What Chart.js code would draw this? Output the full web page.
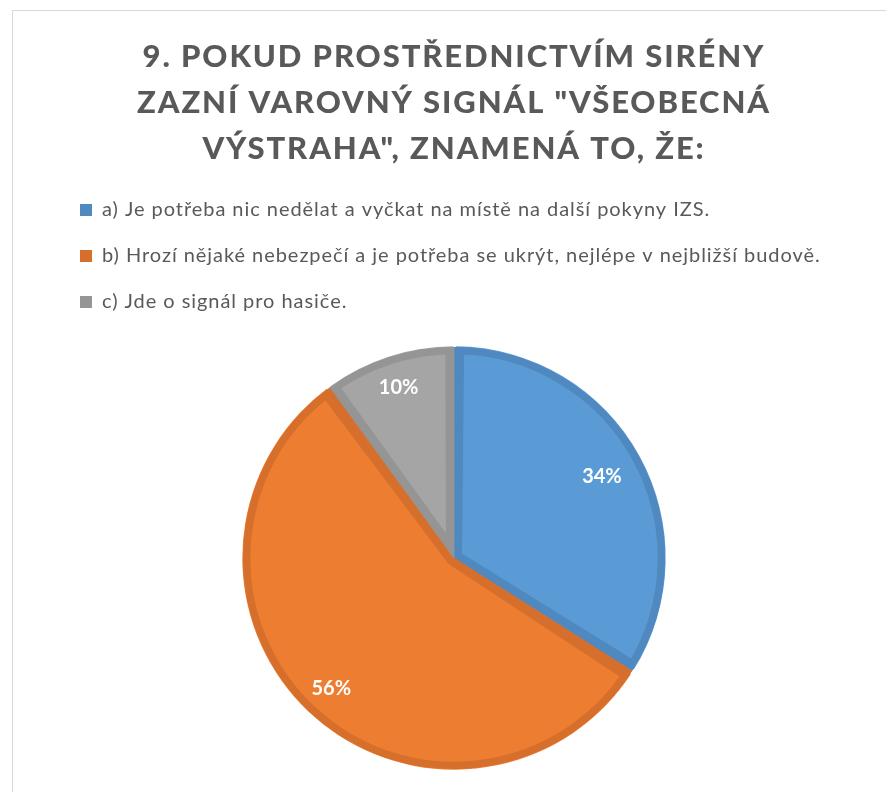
<!DOCTYPE html>
<html>
<head>
<meta charset="utf-8">
<script src="https://cdn.jsdelivr.net/npm/chart.js@4.4.1/dist/chart.umd.min.js"></script>
<style>
  html, body { margin: 0; padding: 0; background: #fff; }
  #frame { position: absolute; left: 12px; top: 10px; width: 900px; height: 800px;
           border-left: 1px solid #d9d9d9; border-top: 1px solid #d9d9d9; }
  #wrap { position: absolute; left: 0; top: 0; width: 886px; height: 792px; }
</style>
</head>
<body>
<div id="frame"></div>
<div id="wrap"><canvas id="myChart" width="886" height="792"></canvas></div>
<script>
const titleLines = ['9. POKUD PROSTŘEDNICTVÍM SIRÉNY', 'ZAZNÍ VAROVNÝ SIGNÁL "VŠEOBECNÁ', 'VÝSTRAHA", ZNAMENÁ TO, ŽE:'];
const categories = [
  'a) Je potřeba nic nedělat a vyčkat na místě na další pokyny IZS.',
  'b) Hrozí nějaké nebezpečí a je potřeba se ukrýt, nejlépe v nejbližší budově.',
  'c) Jde o signál pro hasiče.'
];
const shares = [34, 56, 10];
const fillColors = ['#5b9bd5', '#ed7d31', '#a5a5a5'];
const edgeColors = ['#4f89c0', '#d66f2b', '#959595'];
const labelDist = [0.8, 0.85, 0.85];

// letter spacing for one box method (title / legend)
function spaced(box, name, ls) {
  const orig = box[name];
  box[name] = function (...args) {
    const c = this.ctx;
    const prev = c.letterSpacing;
    c.letterSpacing = ls;
    const r = orig.apply(this, args);
    c.letterSpacing = prev;
    return r;
  };
}

const tweaks = {
  id: 'tweaks',
  beforeInit(chart) {
    spaced(chart.titleBlock, 'draw', '1.9px');
    spaced(chart.legend, 'fit', '0.95px');
    spaced(chart.legend, 'draw', '0.95px');
    // push the pie down below the legend
    const fit = chart.legend.fit;
    chart.legend.fit = function () {
      fit.apply(this);
      this.height += 25;
    };
  }
};

// percent labels inside the slices
const sliceLabels = {
  id: 'sliceLabels',
  afterDatasetsDraw(chart) {
    const ctx = chart.ctx;
    const meta = chart.getDatasetMeta(0);
    ctx.save();
    ctx.fillStyle = '#ffffff';
    ctx.font = 'bold 20px Lato';
    ctx.textAlign = 'center';
    ctx.textBaseline = 'middle';
    meta.data.forEach((arc, i) => {
      const p = arc.getProps(['x', 'y', 'startAngle', 'endAngle', 'outerRadius']);
      const mid = (p.startAngle + p.endAngle) / 2;
      const r = p.outerRadius * labelDist[i];
      ctx.fillText(shares[i] + '%', p.x + Math.cos(mid) * r, p.y + Math.sin(mid) * r);
    });
    ctx.restore();
  }
};

const baseLabels = Chart.overrides.pie.plugins.legend.labels.generateLabels;

const ctx = document.getElementById('myChart');
new Chart(ctx, {
  type: 'pie',
  data: {
    labels: categories,
    datasets: [{
      data: shares,
      backgroundColor: fillColors,
      borderColor: edgeColors,
      borderWidth: 8,
      borderAlign: 'inner',
      spacing: 2,
      radius: 211
    }]
  },
  options: {
    responsive: false,
    animation: false,
    layout: { padding: { left: 54, right: 32, top: 0, bottom: 23 } },
    plugins: {
      tooltip: { enabled: false },
      title: {
        display: true,
        text: titleLines,
        color: '#595959',
        font: { family: 'Lato', size: 31, weight: 900, lineHeight: 46 / 31 },
        padding: { top: 34, bottom: 2 }
      },
      legend: {
        position: 'top',
        align: 'start',
        labels: {
          color: '#595959',
          font: { family: 'Lato', size: 20 },
          boxWidth: 12,
          boxHeight: 12,
          padding: 26,
          generateLabels(chart) {
            return baseLabels(chart).map((item, i) => Object.assign(item, {
              fillStyle: edgeColors[i], strokeStyle: edgeColors[i], lineWidth: 0
            }));
          }
        }
      }
    }
  },
  plugins: [tweaks, sliceLabels]
});
</script>
</body>
</html>
